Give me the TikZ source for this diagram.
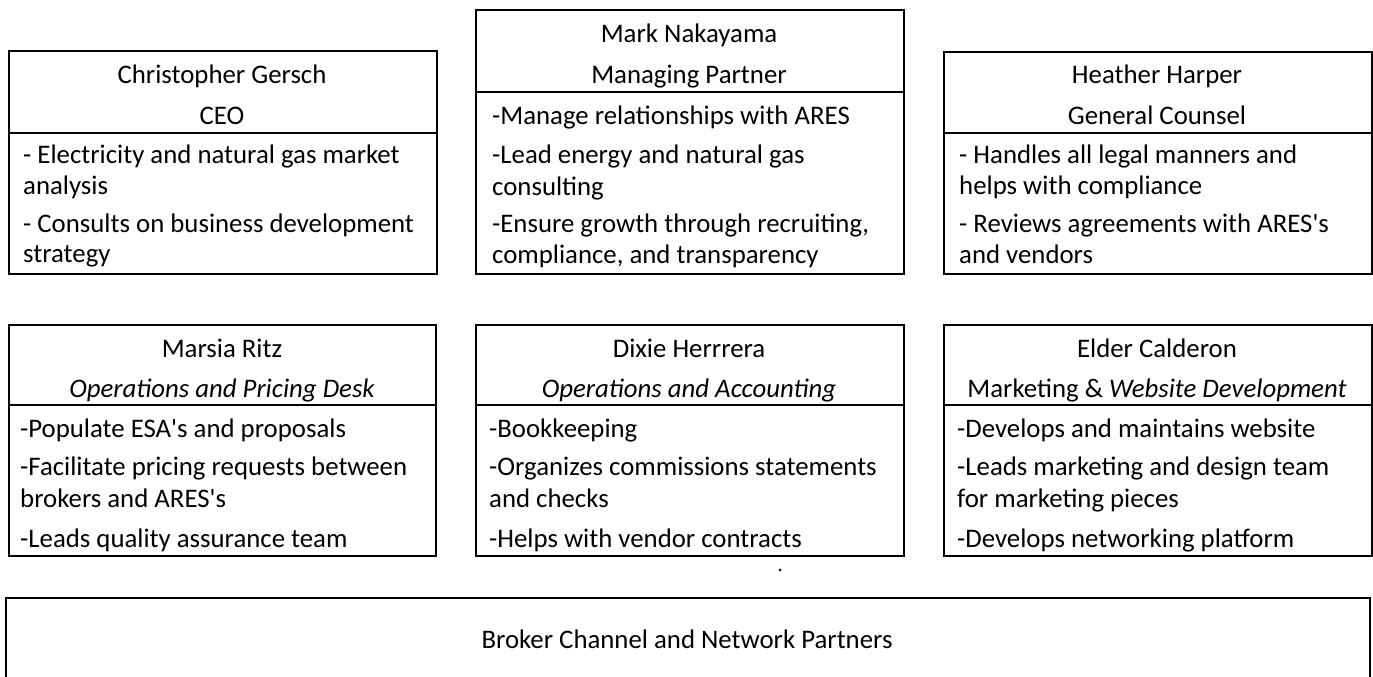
\documentclass[tikz,border=0pt]{standalone}
\usepackage{fontspec}
\setmainfont{Carlito}[Ligatures=TeXOff]
\begin{document}
\begin{tikzpicture}[x=1pt,y=-1pt,
  box/.style={draw=black,line width=1.8pt,rectangle,inner sep=0pt,anchor=north west},
  txt/.style={inner sep=0pt,anchor=base west,font=\fontsize{26.8}{30}\selectfont},
  ttl/.style={inner sep=0pt,anchor=base,font=\fontsize{26.8}{30}\selectfont}]
\useasboundingbox (0,0) rectangle (1373,677);
\clip (0,0) rectangle (1373,677);
% ---------- Row 1 ----------
% Gersch
\node[box,minimum width=428pt,minimum height=82pt] (hA) at (8,50) {};
\node[box,minimum width=428pt,minimum height=141pt] (bA) at (8,132) {};
\node[ttl] (tA1) at (222,83) {Christopher Gersch};
\node[ttl] (tA2) at (222,124) {CEO};
\node[txt] (lA1) at (23,163) {- Electricity and natural gas market};
\node[txt] (lA2) at (23,194) {analysis};
\node[txt] (lA3) at (23,232) {- Consults on business development};
\node[txt] (lA4) at (23,262) {strategy};
% Nakayama
\node[box,minimum width=428pt,minimum height=82pt] (hB) at (475,9) {};
\node[box,minimum width=428pt,minimum height=182pt] (bB) at (475,91) {};
\node[ttl] (tB1) at (689,43) {Mark Nakayama};
\node[ttl] (tB2) at (689,83) {Managing Partner};
\node[txt] (lB1) at (492,124) {-Manage relationships with ARES};
\node[txt] (lB2) at (492,163) {-Lead energy and natural gas};
\node[txt] (lB3) at (492,195) {consulting};
\node[txt] (lB4) at (492,232) {-Ensure growth through recruiting,};
\node[txt] (lB5) at (492,263) {compliance, and transparency};
% Harper
\node[box,minimum width=428pt,minimum height=81pt] (hC) at (943,51) {};
\node[box,minimum width=428pt,minimum height=141pt] (bC) at (943,132) {};
\node[ttl] (tC1) at (1157,83) {Heather Harper};
\node[ttl] (tC2) at (1157,124) {General Counsel};
\node[txt] (lC1) at (959,163) {- Handles all legal manners and};
\node[txt] (lC2) at (959,194) {helps with compliance};
\node[txt] (lC3) at (959,232) {- Reviews agreements with ARES's};
\node[txt] (lC4) at (959,263) {and vendors};
% ---------- Row 2 ----------
% Ritz
\node[box,minimum width=427pt,minimum height=80pt] (hD) at (8,324) {};
\node[box,minimum width=427pt,minimum height=151pt] (bD) at (8,404) {};
\node[ttl] (tD1) at (222,357) {Marsia Ritz};
\node[ttl] (tD2) at (222,397) {\itshape Operations and Pricing Desk};
\node[txt] (lD1) at (20,437) {-Populate ESA's and proposals};
\node[txt] (lD2) at (20,475) {-Facilitate pricing requests between};
\node[txt] (lD3) at (20,507) {brokers and ARES's};
\node[txt] (lD4) at (20,547) {-Leads quality assurance team};
% Herrrera
\node[box,minimum width=428pt,minimum height=80pt] (hE) at (475,324) {};
\node[box,minimum width=428pt,minimum height=151pt] (bE) at (475,404) {};
\node[ttl] (tE1) at (689,357) {Dixie Herrrera};
\node[ttl] (tE2) at (689,397) {\itshape Operations and Accounting};
\node[txt] (lE1) at (489,437) {-Bookkeeping};
\node[txt] (lE2) at (489,475) {-Organizes commissions statements};
\node[txt] (lE3) at (489,507) {and checks};
\node[txt] (lE4) at (489,547) {-Helps with vendor contracts};
% Calderon
\node[box,minimum width=428pt,minimum height=80pt] (hF) at (943,324) {};
\node[box,minimum width=428pt,minimum height=151pt] (bF) at (943,404) {};
\node[ttl] (tF1) at (1157,357) {Elder Calderon};
\node[ttl] (tF2) at (1157,397) {Marketing \& \textit{Website Development}};
\node[txt] (lF1) at (957,437) {-Develops and maintains website};
\node[txt] (lF2) at (957,475) {-Leads marketing and design team};
\node[txt] (lF3) at (957,507) {for marketing pieces};
\node[txt] (lF4) at (957,547) {-Develops networking platform};
% ---------- Bottom ----------
\node[box,minimum width=1364pt,minimum height=100pt] (bG) at (5,597) {};
\node[ttl] (tG) at (687,648) {Broker Channel and Network Partners};
\fill (780,570) circle (1.5pt);
\end{tikzpicture}
\end{document}
